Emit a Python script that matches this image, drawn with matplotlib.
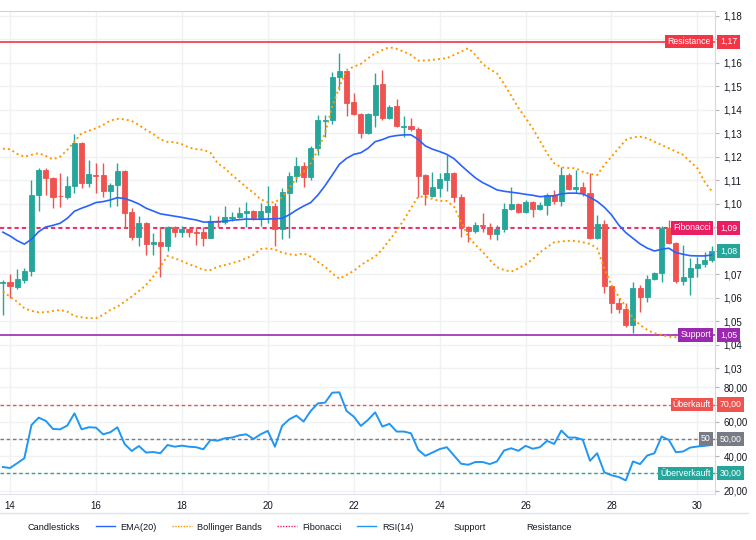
import numpy as np
import matplotlib
matplotlib.use("Agg")
import matplotlib.pyplot as plt
from matplotlib.lines import Line2D

plt.rcParams['font.family'] = ['Liberation Sans', 'DejaVu Sans']

# 4h candles, x in day-of-month
days = 13 + 5 / 6 + np.arange(100) / 6

opens = [1.0663, 1.0668, 1.0647, 1.0677, 1.0715, 1.1038, 1.1145, 1.1111, 1.1034, 1.1030,
         1.1077, 1.1260, 1.1089, 1.1123, 1.1123, 1.1055, 1.1081, 1.1140, 1.0966, 1.0860,
         1.0919, 1.0830, 1.0838, 1.0821, 1.0902, 1.0881, 1.0894, 1.0881, 1.0881, 1.0855,
         1.0928, 1.0923, 1.0940, 1.0945, 1.0962, 1.0970, 1.0940, 1.0966, 1.0991, 1.0894,
         1.1047, 1.1119, 1.1162, 1.1115, 1.1238, 1.1353, 1.1357, 1.1540, 1.1566, 1.1434,
         1.1383, 1.1302, 1.1379, 1.1511, 1.1366, 1.1417, 1.1328, 1.1332, 1.1319, 1.1123,
         1.1034, 1.1068, 1.1102, 1.1132, 1.1030, 1.0902, 1.0885, 1.0911, 1.0902, 1.0872,
         1.0894, 1.0979, 1.1000, 1.0966, 1.1009, 1.0979, 1.0996, 1.1038, 1.1013, 1.1123,
         1.1064, 1.1072, 1.1047, 1.0855, 1.0915, 1.0651, 1.0579, 1.0553, 1.0485, 1.0643,
         1.0604, 1.0681, 1.0706, 1.0898, 1.0834, 1.0672, 1.0689, 1.0728, 1.0745, 1.0762]
highs = [1.0677, 1.0702, 1.0723, 1.0728, 1.1102, 1.1153, 1.1153, 1.1115, 1.1132, 1.1119,
         1.1298, 1.1264, 1.1187, 1.1174, 1.1174, 1.1089, 1.1174, 1.1145, 1.0983, 1.0949,
         1.0923, 1.0877, 1.0902, 1.0906, 1.0906, 1.0906, 1.0898, 1.0902, 1.0902, 1.0953,
         1.0949, 1.0991, 1.0966, 1.0987, 1.1009, 1.0974, 1.1004, 1.1077, 1.1004, 1.1068,
         1.1136, 1.1200, 1.1179, 1.1247, 1.1379, 1.1379, 1.1562, 1.1643, 1.1570, 1.1472,
         1.1387, 1.1387, 1.1557, 1.1570, 1.1421, 1.1447, 1.1374, 1.1366, 1.1328, 1.1128,
         1.1136, 1.1132, 1.1209, 1.1136, 1.1043, 1.0906, 1.0923, 1.0962, 1.0919, 1.0911,
         1.1004, 1.1072, 1.1004, 1.1017, 1.1013, 1.1009, 1.1047, 1.1060, 1.1157, 1.1132,
         1.1145, 1.1094, 1.1132, 1.0953, 1.0932, 1.0655, 1.0600, 1.0579, 1.0668, 1.0655,
         1.0698, 1.0711, 1.0906, 1.0932, 1.0838, 1.0826, 1.0770, 1.0774, 1.0796, 1.0821]
lows = [1.0528, 1.0600, 1.0638, 1.0664, 1.0694, 1.0970, 1.1038, 1.0983, 1.0987, 1.1021,
        1.1047, 1.1068, 1.1072, 1.1047, 1.1030, 1.0987, 1.0991, 1.0898, 1.0847, 1.0821,
        1.0783, 1.0783, 1.0689, 1.0800, 1.0860, 1.0860, 1.0860, 1.0826, 1.0821, 1.0855,
        1.0902, 1.0915, 1.0928, 1.0940, 1.0902, 1.0932, 1.0906, 1.0919, 1.0821, 1.0851,
        1.0855, 1.1094, 1.1072, 1.1102, 1.1209, 1.1285, 1.1340, 1.1485, 1.1374, 1.1379,
        1.1281, 1.1298, 1.1328, 1.1357, 1.1362, 1.1328, 1.1285, 1.1311, 1.1030, 1.0996,
        1.1030, 1.1030, 1.1055, 1.1009, 1.0860, 1.0838, 1.0877, 1.0881, 1.0851, 1.0847,
        1.0881, 1.0974, 1.0962, 1.0962, 1.0945, 1.0974, 1.0953, 1.1000, 1.0991, 1.1060,
        1.1047, 1.1034, 1.0851, 1.0851, 1.0621, 1.0536, 1.0536, 1.0477, 1.0451, 1.0540,
        1.0583, 1.0677, 1.0668, 1.0830, 1.0664, 1.0655, 1.0613, 1.0689, 1.0732, 1.0753]
closes = [1.0669, 1.0652, 1.0681, 1.0715, 1.1038, 1.1145, 1.1111, 1.1030, 1.1032, 1.1077,
          1.1260, 1.1089, 1.1128, 1.1119, 1.1055, 1.1081, 1.1140, 1.0962, 1.0860, 1.0919,
          1.0830, 1.0838, 1.0821, 1.0902, 1.0881, 1.0894, 1.0881, 1.0877, 1.0855, 1.0928,
          1.0923, 1.0945, 1.0946, 1.0962, 1.0970, 1.0940, 1.0970, 1.0991, 1.0894, 1.1051,
          1.1119, 1.1162, 1.1115, 1.1238, 1.1357, 1.1357, 1.1540, 1.1566, 1.1430, 1.1383,
          1.1302, 1.1383, 1.1506, 1.1366, 1.1413, 1.1332, 1.1332, 1.1319, 1.1119, 1.1043,
          1.1072, 1.1106, 1.1132, 1.1030, 1.0902, 1.0885, 1.0911, 1.0906, 1.0872, 1.0894,
          1.0979, 1.1000, 1.0966, 1.1009, 1.0979, 1.0996, 1.1038, 1.1013, 1.1123, 1.1064,
          1.1072, 1.1047, 1.0855, 1.0915, 1.0651, 1.0579, 1.0553, 1.0485, 1.0643, 1.0604,
          1.0681, 1.0706, 1.0898, 1.0834, 1.0672, 1.0689, 1.0728, 1.0745, 1.0762, 1.0800]

ema20 = [1.0880, 1.0864, 1.0844, 1.0829, 1.0850, 1.0882, 1.0902, 1.0909, 1.0918, 1.0939,
         1.0969, 1.0982, 1.0993, 1.1006, 1.1010, 1.1017, 1.1027, 1.1023, 1.1013, 1.1000,
         1.0982, 1.0970, 1.0958, 1.0953, 1.0948, 1.0943, 1.0937, 1.0932, 1.0923, 1.0923,
         1.0925, 1.0926, 1.0931, 1.0933, 1.0936, 1.0935, 1.0935, 1.0936, 1.0937, 1.0939,
         1.0954, 1.0974, 1.0991, 1.1006, 1.1038, 1.1078, 1.1123, 1.1169, 1.1194, 1.1211,
         1.1218, 1.1237, 1.1265, 1.1274, 1.1286, 1.1291, 1.1294, 1.1294, 1.1275, 1.1247,
         1.1233, 1.1223, 1.1211, 1.1193, 1.1164, 1.1137, 1.1111, 1.1091, 1.1076, 1.1060,
         1.1054, 1.1050, 1.1046, 1.1041, 1.1037, 1.1031, 1.1033, 1.1035, 1.1043, 1.1046,
         1.1046, 1.1043, 1.1028, 1.1011, 1.0986, 1.0954, 1.0911, 1.0878, 1.0854, 1.0830,
         1.0812, 1.0800, 1.0807, 1.0812, 1.0793, 1.0786, 1.0780, 1.0779, 1.0779, 1.0783]
bb_upper = [1.1235, 1.1233, 1.1213, 1.1201, 1.1209, 1.1216, 1.1204, 1.1190, 1.1201, 1.1230,
            1.1265, 1.1301, 1.1311, 1.1322, 1.1336, 1.1355, 1.1362, 1.1360, 1.1353, 1.1336,
            1.1315, 1.1298, 1.1275, 1.1264, 1.1263, 1.1254, 1.1240, 1.1233, 1.1230, 1.1218,
            1.1173, 1.1152, 1.1123, 1.1098, 1.1071, 1.1048, 1.1020, 1.1007, 1.1007, 1.1028,
            1.1067, 1.1109, 1.1137, 1.1173, 1.1230, 1.1301, 1.1414, 1.1499, 1.1570, 1.1584,
            1.1596, 1.1620, 1.1641, 1.1655, 1.1667, 1.1660, 1.1648, 1.1634, 1.1610, 1.1610,
            1.1613, 1.1617, 1.1620, 1.1634, 1.1648, 1.1663, 1.1634, 1.1596, 1.1573, 1.1556,
            1.1511, 1.1460, 1.1409, 1.1366, 1.1322, 1.1269, 1.1216, 1.1173, 1.1156, 1.1153,
            1.1152, 1.1137, 1.1128, 1.1123, 1.1166, 1.1201, 1.1237, 1.1272, 1.1284, 1.1286,
            1.1280, 1.1265, 1.1251, 1.1237, 1.1223, 1.1209, 1.1180, 1.1152, 1.1095, 1.1055]
bb_lower = [1.0627, 1.0606, 1.0584, 1.0556, 1.0545, 1.0539, 1.0539, 1.0545, 1.0549, 1.0542,
            1.0523, 1.0518, 1.0514, 1.0514, 1.0528, 1.0549, 1.0563, 1.0584, 1.0606, 1.0630,
            1.0655, 1.0691, 1.0733, 1.0779, 1.0769, 1.0757, 1.0743, 1.0733, 1.0719, 1.0719,
            1.0733, 1.0740, 1.0748, 1.0757, 1.0769, 1.0783, 1.0808, 1.0811, 1.0807, 1.0793,
            1.0786, 1.0783, 1.0790, 1.0776, 1.0754, 1.0733, 1.0705, 1.0682, 1.0698, 1.0715,
            1.0740, 1.0759, 1.0776, 1.0807, 1.0847, 1.0886, 1.0932, 1.0982, 1.1031, 1.1031,
            1.1021, 1.1013, 1.1013, 1.0989, 1.0925, 1.0861, 1.0826, 1.0797, 1.0762, 1.0731,
            1.0719, 1.0712, 1.0726, 1.0743, 1.0765, 1.0794, 1.0816, 1.0837, 1.0841, 1.0843,
            1.0843, 1.0837, 1.0830, 1.0812, 1.0726, 1.0655, 1.0606, 1.0563, 1.0514, 1.0485,
            1.0464, 1.0450, 1.0443, 1.0435, 1.0433, 1.0428, 1.0428, 1.0430, 1.0434, 1.0438]
rsi14 = [33.7, 33.1, 35.9, 38.8, 58.1, 62.4, 60.5, 55.8, 55.6, 57.8,
         64.9, 55.6, 56.8, 56.6, 52.7, 53.9, 56.8, 47.1, 43.0, 45.9,
         42.1, 42.4, 41.7, 46.5, 45.5, 46.1, 45.5, 45.2, 44.0, 49.4,
         49.0, 50.4, 50.8, 52.1, 52.7, 50.0, 52.7, 54.7, 45.5, 57.6,
         61.4, 63.6, 60.1, 66.3, 70.7, 71.1, 76.9, 77.1, 66.3, 63.0,
         57.6, 61.1, 65.5, 57.2, 58.8, 54.3, 54.3, 53.3, 43.7, 40.2,
         42.1, 44.1, 45.2, 40.4, 35.6, 35.0, 36.6, 36.6, 35.4, 36.9,
         43.3, 44.6, 43.1, 46.0, 44.3, 45.2, 48.9, 47.1, 54.9, 50.8,
         50.8, 49.5, 37.3, 41.7, 30.6, 28.9, 27.9, 25.9, 36.9, 35.4,
         40.4, 41.7, 51.4, 49.5, 42.3, 42.7, 45.0, 45.6, 46.0, 46.5]

resistance = 1.1690
fibonacci = 1.0898
support = 1.0443
rsi_levels = [70, 50, 30]
rsi_names = ['Überkauft', '50', 'Überverkauft']

UP = '#26a69a'
DOWN = '#ef5350'
TXT = '#131722'
GRID = '#f0f1f3'

fig = plt.figure(figsize=(7.56, 5.4), dpi=100)
ax = fig.add_axes([0, 1 - 494 / 540, 715 / 756, 483 / 540])
ax.set_xlim(13.767, 30.41)
ax.set_ylim(0.9766, 1.1821)

o = np.array(opens); h = np.array(highs); l = np.array(lows); c = np.array(closes)
cols = np.where(c >= o, UP, DOWN)
ax.vlines(days, l, h, colors=cols, linewidth=1, zorder=3)
ax.bar(days, np.abs(c - o), bottom=np.minimum(o, c), width=0.118, color=cols,
       edgecolor=cols, linewidth=0.6, zorder=4)

ax.plot(days, ema20, color='#2962ff', lw=1.2, zorder=5)
ax.plot(days, bb_upper, color='#ff9800', lw=1.4, ls=(0, (1, 1.6)), zorder=5)
ax.plot(days, bb_lower, color='#ff9800', lw=1.4, ls=(0, (1, 1.6)), zorder=5)

ax.axhline(resistance, color='#f23645', lw=1.2, zorder=2)
ax.axhline(fibonacci, color='#e91e63', lw=1.5, ls=(0, (2, 1.5)), alpha=0.9, zorder=2)
ax.axhline(support, color='#9c27b0', lw=1.2, zorder=2)

# RSI on an overlay scale in the lower part
ax2 = ax.twinx()
ax2.set_ylim(18.0, 298.8)
ax2.plot(days, rsi14, color='#2196f3', lw=1.4, zorder=5)
rsi_cols = ['#ef5350', '#787b86', '#26a69a']
for lvl, col in zip(rsi_levels, rsi_cols):
    ax2.axhline(lvl, color=col, lw=1, ls=(0, (2.5, 2)), zorder=2)

# tick labels hidden where a value tag sits on top of them
price_hidden = [round(resistance, 2), round(fibonacci, 2), round(closes[-1], 2)]

def price_fmt(v, p):
    if round(v, 2) in price_hidden:
        return ''
    return f"{v:.2f}".replace('.', ',')

def rsi_fmt(v, p):
    if round(v) in rsi_levels:
        return ''
    return f"{v:.2f}".replace('.', ',')

ax.set_xticks(np.arange(14, 31, 2))
ax.set_xticklabels([str(d) for d in range(14, 31, 2)])
ax.set_yticks(np.round(np.arange(1.03, 1.185, 0.01), 2))
ax.yaxis.set_major_formatter(matplotlib.ticker.FuncFormatter(price_fmt))
ax2.set_yticks(np.arange(20, 81, 10))
ax2.yaxis.set_major_formatter(matplotlib.ticker.FuncFormatter(rsi_fmt))

ax.yaxis.tick_right()
for a in (ax, ax2):
    a.tick_params(axis='y', which='both', right=True, left=False, labelright=True, labelleft=False,
                  length=3, width=0.8, color='#b2b5be', labelsize=7, labelcolor=TXT, pad=3)
    for s in a.spines.values():
        s.set_visible(False)
ax.tick_params(axis='x', length=0, labelsize=7, labelcolor=TXT, pad=5)
ax.grid(True, color=GRID, lw=1, zorder=0)
ax2.grid(True, axis='y', color=GRID, lw=1, zorder=0)
ax.set_axisbelow(True)
ax.spines['right'].set_visible(True)
ax.spines['right'].set_color('#d6d8de')
ax.spines['bottom'].set_visible(True)
ax.spines['bottom'].set_color('#e0e3eb')
ax.spines['top'].set_visible(True)
ax.spines['top'].set_color('#d1d4dc')

def tag(axis, y, name, value, color):
    kw = dict(xycoords=('axes fraction', 'data'), textcoords='offset points', va='center',
              color='white', fontsize=6.3, annotation_clip=False, zorder=10)
    if name:
        axis.annotate(name, xy=(1, y), xytext=(-3, 0), ha='right',
                      bbox=dict(boxstyle='square,pad=0.25', fc=color, ec='none'), **kw)
    axis.annotate(value, xy=(1, y), xytext=(3.5, 0), ha='left',
                  bbox=dict(boxstyle='square,pad=0.3', fc=color, ec='none'), **kw)

tag(ax, resistance, 'Resistance', '1,17', '#f23645')
tag(ax, fibonacci, 'Fibonacci', '1,09', '#e91e63')
tag(ax, support, 'Support', '1,05', '#9c27b0')
tag(ax, closes[-1], None, f"{closes[-1]:.2f}".replace('.', ','), UP)
for lvl, name, col in zip(rsi_levels, rsi_names, rsi_cols):
    tag(ax2, lvl, name, f"{lvl:.2f}".replace('.', ','), col)

fig.add_artist(Line2D([0, 0.99], [1 - 513 / 540] * 2, color='#e0e3eb', lw=1))

blank = Line2D([], [], color='none')
handles = [blank,
           Line2D([], [], color='#2962ff', lw=1),
           Line2D([], [], color='#ff9800', lw=1, ls=(0, (1, 1))),
           Line2D([], [], color='#e91e63', lw=1, ls=(0, (1, 1))),
           Line2D([], [], color='#2196f3', lw=1),
           blank, blank]
labels = ['Candlesticks', 'EMA(20)', 'Bollinger Bands', 'Fibonacci', 'RSI(14)', 'Support', 'Resistance']
fig.legend(handles, labels, loc='center left', bbox_to_anchor=(0.004, 1 - 527 / 540), ncol=7,
           frameon=False, fontsize=6.6, handlelength=2.1, handletextpad=0.6, columnspacing=1.7,
           borderpad=0, borderaxespad=0, labelcolor=TXT)

fig.savefig('out.png', dpi=100)
